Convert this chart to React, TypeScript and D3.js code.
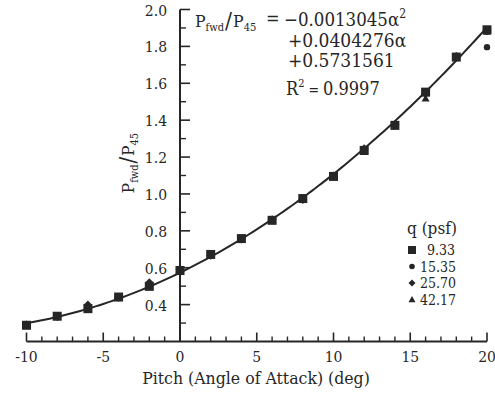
import React from 'react';
import * as d3 from 'd3';

// Pitch angle (deg) for each measurement
const pitch = [-10, -8, -6, -4, -2, 0, 2, 4, 6, 8, 10, 12, 14, 16, 18, 20];

// P_fwd / P_45 at each dynamic pressure q (psf)
const q933 = [0.288, 0.337, 0.378, 0.441, 0.499, 0.585, 0.672, 0.758, 0.857, 0.975, 1.095, 1.236, 1.372, 1.552, 1.742, 1.89];
const q1535 = [0.29, 0.338, 0.388, 0.442, 0.505, 0.59, 0.67, 0.757, 0.862, 0.972, 1.1, 1.24, 1.37, 1.548, 1.74, 1.796];
const q2570 = [0.289, 0.336, 0.398, 0.44, 0.518, 0.592, 0.668, 0.756, 0.86, 0.97, 1.097, 1.245, 1.375, 1.545, 1.745, 1.885];
const q4217 = [0.287, 0.335, 0.385, 0.438, 0.51, 0.588, 0.67, 0.755, 0.855, 0.968, 1.095, 1.228, 1.368, 1.518, 1.74, 1.88];

const legendLabels = ['9.33', '15.35', '25.70', '42.17'];

// Quadratic fit coefficients (alpha^2, alpha, constant)
const fitCoefs = [0.0013045, 0.0404276, 0.5731561];

const xMajor = [-10, -5, 0, 5, 10, 15, 20];
const yLabels = [0.4, 0.6, 0.8, 1.0, 1.2, 1.4, 1.6, 1.8, 2.0];

const W = 495;
const H = 393;
const FONT = "'DejaVu Serif Condensed', 'DejaVu Serif', serif";
const INK = '#262626';

const x = d3.scaleLinear().domain([-10, 20]).range([26.5, 487]);
const y = d3.scaleLinear().domain([0.2, 2.0]).range([341.5, 9.5]);

function fit(a: number) {
  return fitCoefs[0] * a * a + fitCoefs[1] * a + fitCoefs[2];
}

type Shape = 'square' | 'circle' | 'diamond' | 'triangle';

function Marker({ cx, cy, shape, s }: { cx: number; cy: number; shape: Shape; s: number }) {
  if (shape === 'square') {
    return <rect x={cx - s / 2} y={cy - s / 2} width={s} height={s} fill={INK} />;
  }
  if (shape === 'circle') {
    return <circle cx={cx} cy={cy} r={s * 0.4} fill={INK} />;
  }
  if (shape === 'diamond') {
    const h = s * 0.5;
    return <path d={`M${cx},${cy - h}L${cx + h},${cy}L${cx},${cy + h}L${cx - h},${cy}Z`} fill={INK} />;
  }
  const h = s * 0.5;
  return <path d={`M${cx},${cy - h}L${cx + h},${cy + h * 0.8}L${cx - h},${cy + h * 0.8}Z`} fill={INK} />;
}

export default function App() {
  const curve = d3
    .line<number>()
    .x((a) => x(a))
    .y((a) => y(fit(a)))
    .curve(d3.curveLinear)(d3.range(-10, 20.01, 0.25));

  const xMinor = d3.range(-10, 21, 1).filter((v) => v % 5 !== 0);
  const yMajor = d3.range(0.4, 2.01, 0.2).map((v) => +v.toFixed(1));
  const yMinor = d3.range(0.3, 2.0, 0.2).map((v) => +v.toFixed(1));

  const series: { vals: number[]; shape: Shape; size: number }[] = [
    { vals: q1535, shape: 'circle', size: 8 },
    { vals: q2570, shape: 'diamond', size: 9 },
    { vals: q4217, shape: 'triangle', size: 8 },
    { vals: q933, shape: 'square', size: 9 },
  ];
  const legendShapes: Shape[] = ['square', 'circle', 'diamond', 'triangle'];

  const x0 = x(0);
  const yBase = y(0.2);

  return (
    <svg width={W} height={H} style={{ position: 'absolute', left: 0, top: 0, background: '#fff' }}>
      <g style={{ fontFamily: FONT, fontStretch: 'condensed' }} fill={INK}>
        {/* axes */}
        <line x1={x(-10)} x2={x(20)} y1={yBase} y2={yBase} stroke={INK} strokeWidth={2} />
        <line x1={x0} x2={x0} y1={yBase} y2={y(2.0)} stroke={INK} strokeWidth={2} />

        {xMajor.map((v) => (
          <line key={'xM' + v} x1={x(v)} x2={x(v)} y1={yBase} y2={yBase - 9} stroke={INK} strokeWidth={1.6} />
        ))}
        {xMinor.map((v) => (
          <line key={'xm' + v} x1={x(v)} x2={x(v)} y1={yBase} y2={yBase - 5} stroke={INK} strokeWidth={1.4} />
        ))}
        {yMajor.map((v) => (
          <line key={'yM' + v} x1={x0} x2={x0 + 10} y1={y(v)} y2={y(v)} stroke={INK} strokeWidth={1.6} />
        ))}
        {yMinor.map((v) => (
          <line key={'ym' + v} x1={x0} x2={x0 + 6} y1={y(v)} y2={y(v)} stroke={INK} strokeWidth={1.4} />
        ))}

        {xMajor.map((v) => (
          <text key={'xl' + v} x={x(v)} y={362} textAnchor="middle" fontSize={15.5}>
            {v < 0 ? '-' + Math.abs(v) : String(v)}
          </text>
        ))}
        {yLabels.map((v) => (
          <text key={'yl' + v} x={167} y={y(v) + 6} textAnchor="end" fontSize={15.5}>
            {v.toFixed(1)}
          </text>
        ))}

        <text x={256} y={384} textAnchor="middle" fontSize={17.5}>
          Pitch (Angle of Attack) (deg)
        </text>

        <text transform="translate(134,163) rotate(-90)" textAnchor="middle" fontSize={17}>
          <tspan>P</tspan>
          <tspan fontSize={11} dy={4}>fwd</tspan>
          <tspan fontSize={22} dy={-3} dx={1}>/</tspan>
          <tspan dy={-1} dx={1}>P</tspan>
          <tspan fontSize={11} dy={4}>45</tspan>
        </text>

        {/* fitted curve */}
        <path d={curve ?? ''} fill="none" stroke={INK} strokeWidth={2} />

        {series.map((s, si) =>
          pitch.map((p, i) => (
            <Marker key={`${si}-${i}`} cx={x(p)} cy={y(s.vals[i])} shape={s.shape} s={s.size} />
          ))
        )}

        {/* fit equation */}
        <text x={195} y={27} fontSize={17.5}>
          <tspan>P</tspan>
          <tspan fontSize={11} dy={4}>fwd</tspan>
          <tspan fontSize={23} dy={-3} dx={1}>/</tspan>
          <tspan dy={-1} dx={1}>P</tspan>
          <tspan fontSize={11} dy={4}>45</tspan>
        </text>
        <text x={266} y={25} fontSize={18}>=</text>
        <text x={284} y={26} fontSize={18.5}>
          −0.0013045α<tspan fontSize={12} dy={-8}>2</tspan>
        </text>
        <text x={288} y={47} fontSize={19}>+0.0404276α</text>
        <text x={288} y={67} fontSize={19}>+0.5731561</text>
        <text x={286} y={95} fontSize={18}>
          R<tspan fontSize={11} dy={-8}>2</tspan>
          <tspan dy={8} fontSize={14}> = </tspan>
          <tspan>0.9997</tspan>
        </text>

        {/* legend */}
        <text x={407} y={234} fontSize={17}>q  (psf)</text>
        {legendLabels.map((lab, i) => (
          <g key={lab}>
            <Marker cx={412} cy={250 + i * 16.5} shape={legendShapes[i]} s={legendShapes[i] === 'square' ? 8 : 7} />
            <text x={lab.length === 4 ? 427 : 420} y={255 + i * 16.5} fontSize={14}>
              {lab}
            </text>
          </g>
        ))}
      </g>
    </svg>
  );
}
